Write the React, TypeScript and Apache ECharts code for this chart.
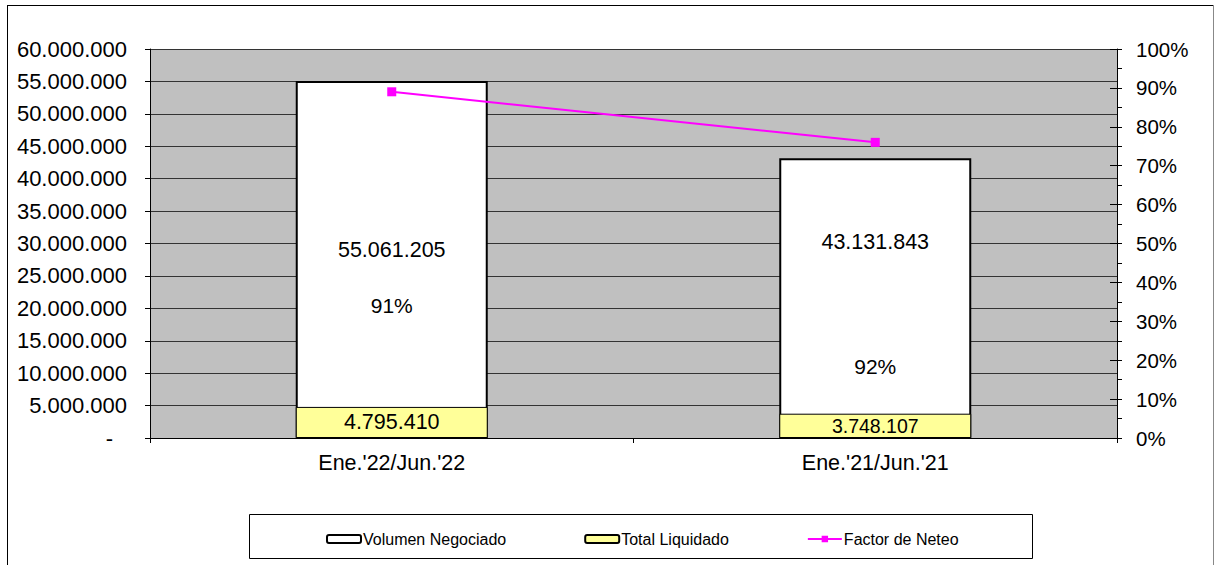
import React, { useEffect, useRef } from "react";
import * as echarts from "echarts";

const categories = ["Ene.'22/Jun.'22", "Ene.'21/Jun.'21"];
const volumenNegociado = [55061205, 43131843];
const totalLiquidado = [4795410, 3748107];
const factorNeteo = [89, 76];
const factorLabels = ["91%", "92%"];
const leftTicks = { min: 0, max: 60000000, interval: 5000000 };
const rightTicks = { min: 0, max: 100, interval: 10 };

const FONT = "'Liberation Sans', Arial, sans-serif";

function fmt(v: number): string {
  return String(Math.round(v)).replace(/\B(?=(\d{3})+(?!\d))/g, ".");
}

const GRID = { left: 150, top: 49, width: 967, height: 389 };

export default function App() {
  const ref = useRef<HTMLDivElement>(null);
  useEffect(() => {
    if (!ref.current) return;
    const chart = echarts.init(ref.current, undefined, { renderer: "svg" });
    const catW = GRID.width / categories.length;
    const cx = (i: number) => GRID.left + catW * (i + 0.5);
    const yOf = (v: number) =>
      GRID.top + GRID.height - (v / leftTicks.max) * GRID.height;
    // label anchor values (positions in left-axis units)
    const valueLabelAt = [29000000, 30200000];
    const pctLabelAt = [20500000, 11100000];
    const graphics: any[] = [
      { type: "line", shape: { x1: 7, y1: 5.5, x2: 1213, y2: 5.5 }, style: { stroke: "#000", lineWidth: 1 }, z: 0 },
      { type: "line", shape: { x1: 7.5, y1: 5, x2: 7.5, y2: 565 }, style: { stroke: "#000", lineWidth: 1 }, z: 0 },
      { type: "line", shape: { x1: 1213.5, y1: 5, x2: 1213.5, y2: 565 }, style: { stroke: "#888", lineWidth: 1 }, z: 0 },
      { type: "rect", shape: { x: 249.5, y: 514.5, width: 783, height: 44 }, style: { fill: "#fff", stroke: "#000", lineWidth: 1 }, z: 0 },
    ];
    categories.forEach((_, i) => {
      graphics.push({
        type: "text",
        x: cx(i),
        y: yOf(valueLabelAt[i]),
        z: 100,
        style: { text: fmt(volumenNegociado[i]), fill: "#000", font: `21.5px ${FONT}`, align: "center", verticalAlign: "middle" },
      });
      graphics.push({
        type: "text",
        x: cx(i),
        y: yOf(pctLabelAt[i]),
        z: 100,
        style: { text: factorLabels[i], fill: "#000", font: `21px ${FONT}`, align: "center", verticalAlign: "middle" },
      });
    });

    chart.setOption({
      animation: false,
      backgroundColor: "#fff",
      textStyle: { fontFamily: FONT },
      grid: { ...GRID, backgroundColor: "#c0c0c0", show: true, borderWidth: 0 },
      legend: {
        data: ["Volumen Negociado", "Total Liquidado", "Factor de Neteo"],
        left: 321,
        top: 526,
        itemWidth: 34,
        itemHeight: 8,
        itemGap: 78,
        textStyle: { fontSize: 16, color: "#000", fontFamily: FONT, padding: [0, 0, 0, -3] },
      },
      xAxis: {
        type: "category",
        data: categories,
        axisLine: { lineStyle: { color: "#000", width: 1 } },
        axisTick: { show: true, length: 5, lineStyle: { color: "#000" } },
        axisLabel: { fontSize: 21.5, color: "#000", margin: 14, fontFamily: FONT },
      },
      yAxis: [
        {
          type: "value",
          position: "left",
          ...leftTicks,
          axisLine: { show: true, lineStyle: { color: "#000" } },
          axisTick: { show: true, length: 5, lineStyle: { color: "#000" } },
          splitLine: { show: true, lineStyle: { color: "#333", width: 1 } },
          axisLabel: {
            fontSize: 22,
            color: "#000",
            margin: 23,
            fontFamily: FONT,
            formatter: (v: number) => (v === 0 ? "{d|-}" : fmt(v)),
            rich: { d: { fontSize: 22, color: "#000", fontFamily: FONT, padding: [0, 14, 0, 0] } },
          },
        },
        {
          type: "value",
          position: "right",
          ...rightTicks,
          axisLine: { show: true, lineStyle: { color: "#000" } },
          axisTick: { show: true, length: 5, lineStyle: { color: "#000" } },
          minorTick: { show: true, splitNumber: 2, length: 5, lineStyle: { color: "#000" } },
          splitLine: { show: false },
          axisLabel: { fontSize: 20.5, color: "#000", margin: 19, fontFamily: FONT, formatter: "{value}%" },
        },
        {
          type: "value",
          position: "right",
          ...rightTicks,
          axisLine: { show: false },
          axisTick: { show: true, inside: true, length: 7, lineStyle: { color: "#000" } },
          splitLine: { show: false },
          axisLabel: { show: false },
        },
      ],
      series: [
        {
          name: "Volumen Negociado",
          type: "bar",
          yAxisIndex: 0,
          data: volumenNegociado,
          barWidth: 192,
          barGap: "-100%",
          itemStyle: { color: "#fff", borderColor: "#000", borderWidth: 2 },
        },
        {
          name: "Total Liquidado",
          type: "bar",
          yAxisIndex: 0,
          barWidth: 192,
          barGap: "-100%",
          data: totalLiquidado.map((v, i) => ({
            value: v,
            label: { fontSize: i === 0 ? 21.5 : 19.5 },
          })),
          itemStyle: { color: "#ffff99", borderColor: "#000", borderWidth: 1 },
          label: {
            show: true,
            position: "inside",
            color: "#000",
            fontFamily: FONT,
            formatter: (p: any) => fmt(p.value),
          },
        },
        {
          name: "Factor de Neteo",
          type: "line",
          yAxisIndex: 1,
          data: factorNeteo,
          symbol: "rect",
          symbolSize: 9,
          itemStyle: { color: "#ff00ff" },
          lineStyle: { color: "#ff00ff", width: 2 },
          z: 5,
        },
      ],
      graphic: graphics,
    });
    return () => chart.dispose();
  }, []);
  return (
    <div
      ref={ref}
      style={{ position: "absolute", left: 0, top: 0, width: 1215, height: 565 }}
    />
  );
}
